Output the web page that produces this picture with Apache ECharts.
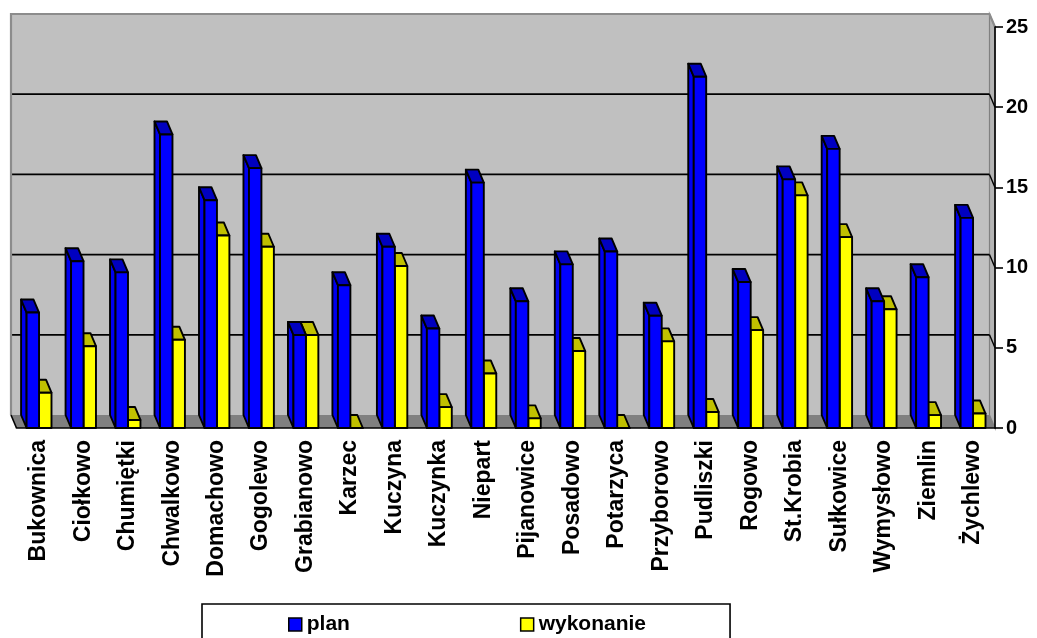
<!DOCTYPE html>
<html>
<head>
<meta charset="utf-8">
<script src="https://cdn.jsdelivr.net/npm/echarts@6/dist/echarts.min.js"></script>
<style>
  html, body { margin: 0; padding: 0; background: #fff; }
  #chart { width: 1037px; height: 638px; }
</style>
</head>
<body>
<div id="chart"></div>
<script>
// Villages and their planned vs. executed values
const categories = ['Bukownica', 'Ciołkowo', 'Chumiętki', 'Chwalkowo', 'Domachowo', 'Gogolewo',
  'Grabianowo', 'Karzec', 'Kuczyna', 'Kuczynka', 'Niepart', 'Pijanowice', 'Posadowo',
  'Potarzyca', 'Przyborowo', 'Pudliszki', 'Rogowo', 'St.Krobia', 'Sułkowice', 'Wymysłowo',
  'Ziemlin', 'Żychlewo'];
const planValues = [7.2, 10.4, 9.7, 18.3, 14.2, 16.2, 5.8, 8.9, 11.3, 6.2, 15.3, 7.9, 10.2,
  11.0, 7.0, 21.9, 9.1, 15.5, 17.4, 7.9, 9.4, 13.1];
const wykonanieValues = [2.2, 5.1, 0.5, 5.5, 12.0, 11.3, 5.8, 0, 10.1, 1.3, 3.4, 0.6, 4.8,
  0, 5.4, 1.0, 6.1, 14.5, 11.9, 7.4, 0.8, 0.9];
const valueTicks = [0, 5, 10, 15, 20, 25];
const seriesNames = ['plan', 'wykonanie'];

const FONT = '"Liberation Sans", Arial, sans-serif';
// oblique depth of the 3D box (towards the back wall)
const DX = -5.5, DY = -13;
const V_MIN = valueTicks[0], V_MAX = valueTicks[valueTicks.length - 1];

const planColors = { front: '#0000FF', side: '#0000F0', top: '#0000C0' };
const wykColors = { front: '#FFFF00', side: '#F0F000', top: '#C0C000' };

function bar3d(api, side, colors) {
  const i = api.value(0), v = api.value(1);
  const base = api.coord([i, 0]);
  const top = api.coord([i, v]);
  const bw = api.size([1, 0])[0];
  const w = bw * 0.28;
  const x0 = side < 0 ? base[0] - w + 0.3 : base[0] + 0.3;
  const x1 = x0 + w;
  const yb = base[1], yt = top[1];
  const st = { stroke: '#000', lineWidth: 1.9, lineJoin: 'round' };
  return {
    type: 'group',
    children: [
      { type: 'polygon', shape: { points: [[x0 + DX, yt + DY], [x0, yt], [x0, yb], [x0 + DX, yb + DY]] },
        style: Object.assign({ fill: colors.side }, st) },
      { type: 'polygon', shape: { points: [[x0 + DX, yt + DY], [x1 + DX, yt + DY], [x1, yt], [x0, yt]] },
        style: Object.assign({ fill: colors.top }, st) },
      { type: 'rect', shape: { x: x0, y: yt, width: w, height: yb - yt },
        style: Object.assign({ fill: colors.front }, st) }
    ]
  };
}

function renderWalls(params, api) {
  const cs = params.coordSys;
  const xl = cs.x, xr = cs.x + cs.width;
  const y0 = api.coord([0, V_MIN])[1];
  const yTop = api.coord([0, V_MAX])[1];
  const children = [
    // back wall
    { type: 'rect', shape: { x: xl + DX, y: yTop + DY, width: xr - xl, height: y0 - yTop },
      style: { fill: '#C0C0C0' } },
    // right side wall
    { type: 'polygon', shape: { points: [[xr + DX, yTop + DY], [xr, yTop], [xr, y0], [xr + DX, y0 + DY]] },
      style: { fill: '#B4B4B4', stroke: '#808080', lineWidth: 1.2 } },
    // floor
    { type: 'polygon', shape: { points: [[xl + DX, y0 + DY], [xr + DX, y0 + DY], [xr, y0], [xl, y0]] },
      style: { fill: '#808080' } }
  ];
  // gridlines on the back wall and on the side wall
  valueTicks.slice(1, -1).forEach(function (v) {
    const y = api.coord([0, v])[1];
    children.push({ type: 'line', shape: { x1: xl + DX, y1: y + DY, x2: xr + DX, y2: y + DY },
      style: { stroke: '#000', lineWidth: 1.7 } });
    children.push({ type: 'line', shape: { x1: xr + DX, y1: y + DY, x2: xr, y2: y },
      style: { stroke: '#000', lineWidth: 1.4 } });
  });
  // wall outline
  children.push({ type: 'polyline', shape: { points: [[xl + DX, y0 + DY], [xl + DX, yTop + DY], [xr + DX, yTop + DY], [xr, yTop]] },
    style: { stroke: '#8C8C8C', lineWidth: 2.2, fill: null } });
  children.push({ type: 'line', shape: { x1: xl + DX, y1: y0 + DY, x2: xl, y2: y0 },
    style: { stroke: '#000', lineWidth: 1.6 } });
  return { type: 'group', children: children };
}

const chart = echarts.init(document.getElementById('chart'), null, { renderer: 'canvas' });
chart.setOption({
  animation: false,
  backgroundColor: '#fff',
  grid: { left: 16.5, right: 42, top: 27, bottom: 210 },
  legend: {
    data: [
      { name: seriesNames[0], icon: 'rect', itemStyle: { color: planColors.front, borderColor: '#000', borderWidth: 1.5 } },
      { name: seriesNames[1], icon: 'rect', itemStyle: { color: wykColors.front, borderColor: '#000', borderWidth: 1.5 } }
    ],
    left: 202, top: 604,
    padding: [10, 84, 20, 86],
    itemWidth: 13, itemHeight: 13, itemGap: 170,
    borderColor: '#000', borderWidth: 1.6,
    selectedMode: false,
    textStyle: { fontSize: 21, fontWeight: 'bold', color: '#000', fontFamily: FONT }
  },
  xAxis: {
    type: 'category',
    data: categories,
    z: 10,
    axisLine: { lineStyle: { color: '#000', width: 1.6 } },
    axisTick: { interval: 0, length: 7, lineStyle: { color: '#000', width: 1.6 } },
    axisLabel: { interval: 0, rotate: 90, margin: 12, fontSize: 23, fontWeight: 'bold', color: '#000', fontFamily: FONT },
    splitLine: { show: false }
  },
  yAxis: {
    type: 'value',
    position: 'right',
    min: V_MIN, max: V_MAX, interval: 5,
    z: 10,
    axisLine: { show: true, lineStyle: { color: '#000', width: 1.6 } },
    axisTick: { show: true, length: 8, lineStyle: { color: '#000', width: 1.6 } },
    axisLabel: { margin: 11, fontSize: 20, fontWeight: 'bold', color: '#000', fontFamily: FONT },
    splitLine: { show: false }
  },
  series: [
    {
      type: 'custom', name: 'walls', z: 1, silent: true,
      data: [[0, 0]], encode: { x: 0, y: 1 },
      renderItem: renderWalls
    },
    {
      type: 'custom', name: seriesNames[1], z: 3,
      itemStyle: { color: wykColors.front },
      data: wykonanieValues.map(function (v, i) { return [i, v]; }),
      encode: { x: 0, y: 1 },
      renderItem: function (params, api) { return bar3d(api, 1, wykColors); }
    },
    {
      type: 'custom', name: seriesNames[0], z: 4,
      itemStyle: { color: planColors.front },
      data: planValues.map(function (v, i) { return [i, v]; }),
      encode: { x: 0, y: 1 },
      renderItem: function (params, api) { return bar3d(api, -1, planColors); }
    }
  ]
});
</script>
</body>
</html>
